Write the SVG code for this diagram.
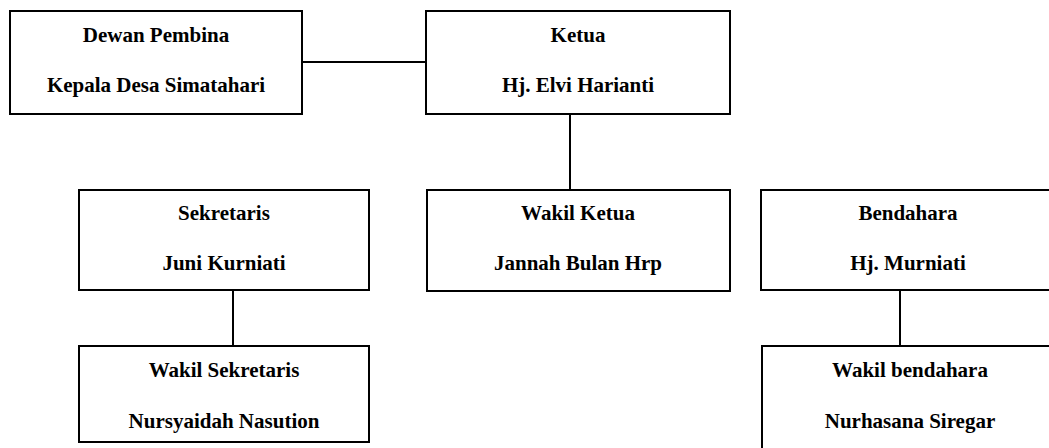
<svg xmlns="http://www.w3.org/2000/svg" width="1049" height="448" viewBox="0 0 1049 448">
<style>
.box{fill:#fff;stroke:#000;stroke-width:2}
line{stroke:#000;stroke-width:2}
text{font-family:"Liberation Serif","Times New Roman",serif;font-weight:bold;font-size:21px;text-anchor:middle;fill:#000}
</style>
<rect width="1049" height="448" fill="#fff"/>
<g id="connectors">
<line x1="302" y1="62" x2="426" y2="62"/>
<line x1="570" y1="114" x2="570" y2="190"/>
<line x1="233" y1="290" x2="233" y2="346"/>
<line x1="900" y1="290" x2="900" y2="346"/>
</g>
<g id="dewan"><rect class="box" x="10" y="11" width="292" height="103"/><text x="156" y="42">Dewan Pembina</text><text x="156" y="92">Kepala Desa Simatahari</text></g>
<g id="ketua"><rect class="box" x="426" y="11" width="304" height="103"/><text x="578" y="42">Ketua</text><text x="578" y="92">Hj. Elvi Harianti</text></g>
<g id="sekretaris"><rect class="box" x="79" y="190" width="290" height="100"/><text x="224" y="220">Sekretaris</text><text x="224" y="270">Juni Kurniati</text></g>
<g id="wakil-ketua"><rect class="box" x="427" y="190" width="303" height="101"/><text x="578" y="220">Wakil Ketua</text><text x="578" y="270">Jannah Bulan Hrp</text></g>
<g id="bendahara"><rect class="box" x="761" y="190" width="300" height="100"/><text x="908" y="220">Bendahara</text><text x="908" y="270">Hj. Murniati</text></g>
<g id="wakil-sekretaris"><rect class="box" x="79" y="346" width="290" height="96"/><text x="224" y="377">Wakil Sekretaris</text><text x="224" y="428">Nursyaidah Nasution</text></g>
<g id="wakil-bendahara"><rect class="box" x="762" y="346" width="300" height="110"/><text x="910" y="377">Wakil bendahara</text><text x="910" y="428">Nurhasana Siregar</text></g>
</svg>
